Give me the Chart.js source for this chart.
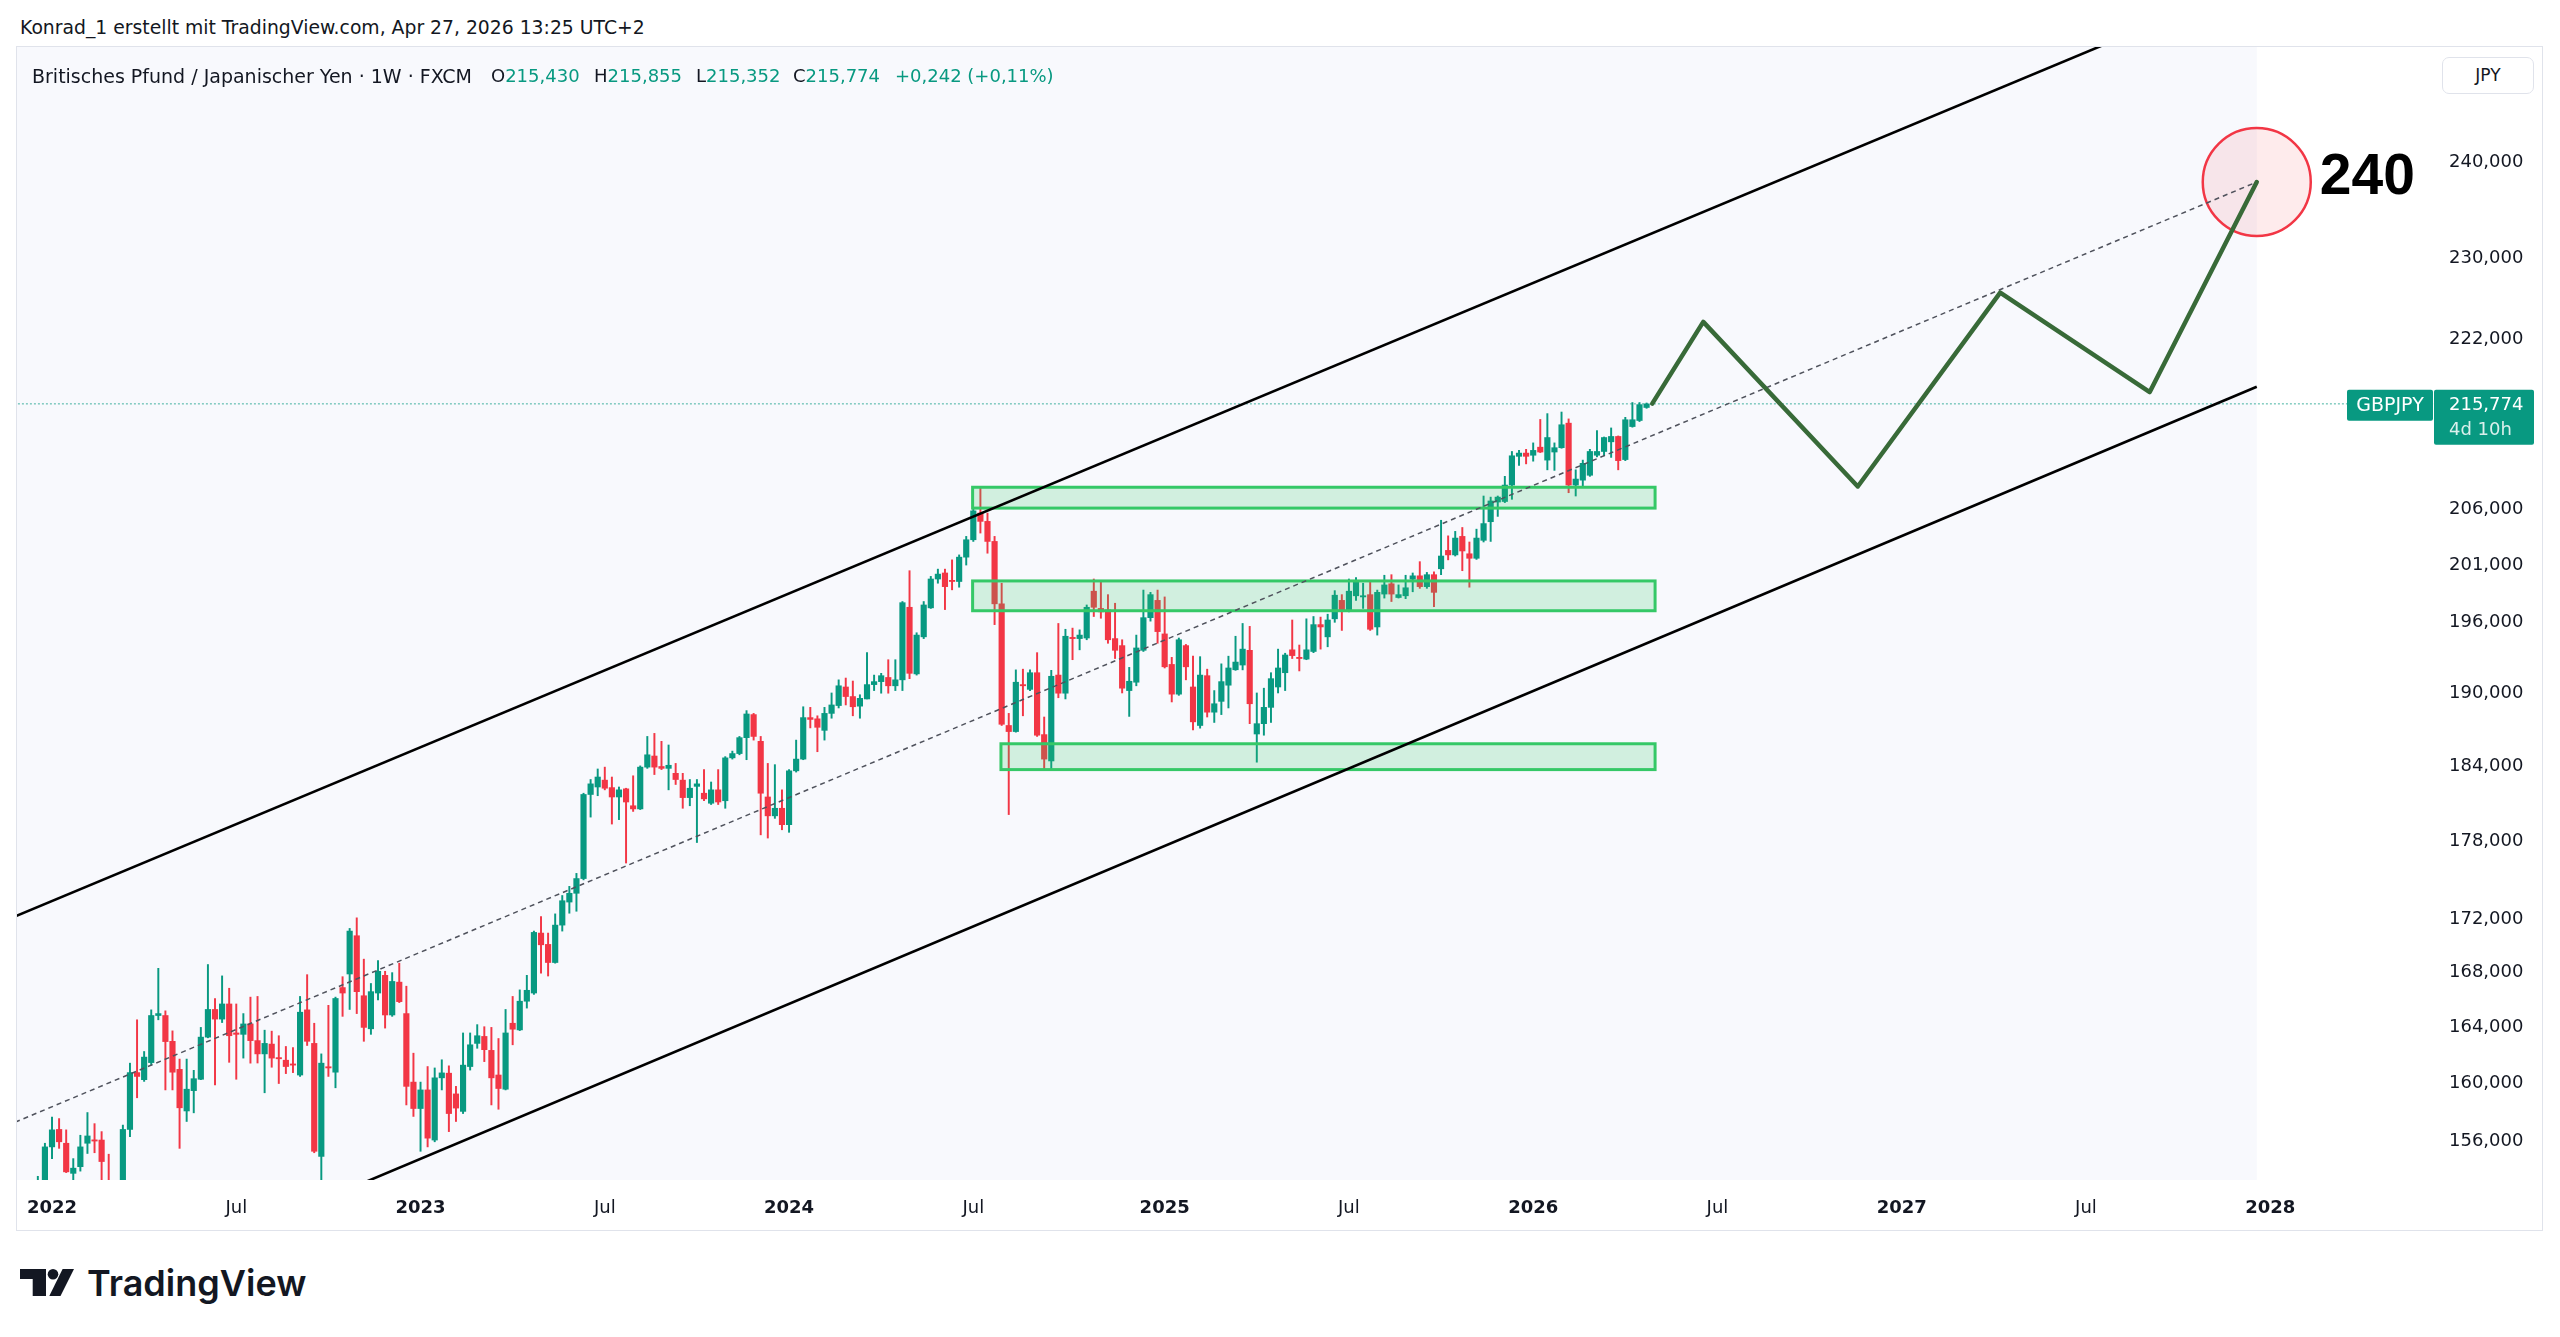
<!DOCTYPE html>
<html lang="de">
<head>
<meta charset="utf-8">
<title>GBPJPY 1W</title>
<script src="https://cdn.jsdelivr.net/npm/chart.js@4.4.1/dist/chart.umd.min.js"></script>
<style>
  html, body { margin:0; padding:0; background:#ffffff; }
  body { width:2560px; height:1337px; position:relative; overflow:hidden; font-family:'DejaVu Sans', sans-serif; color:#131722; }
  .abs { position:absolute; white-space:nowrap; }
  #hdr { left:20px; top:18px; font-size:18.8px; line-height:20px; }
  .lg { top:66px; font-size:18px; line-height:20px; }
  .v { color:#089981; }
  #pane { left:16px; top:46px; width:2527px; height:1185px; border:1px solid #E0E3EB; box-sizing:border-box; }
  #c { position:absolute; left:17px; top:47px; }
  #jpy { left:2442px; top:57px; width:92px; height:37px; border:1px solid #E0E3EB; border-radius:7px; box-sizing:border-box; font-size:17px; line-height:35px; text-align:center; background:#fff; }
  #logo { left:20px; top:1269px; }
  #tv { left:87px; top:1265px; font-family:Inter, sans-serif; font-weight:600; font-size:36px; line-height:36px; color:#131722; }
</style>
</head>
<body>
<div class="abs" id="hdr">Konrad_1 erstellt mit TradingView.com, Apr 27, 2026 13:25 UTC+2</div>
<div class="abs" id="pane"></div>
<canvas id="c" width="2525" height="1183" style="width:2525px;height:1183px"></canvas>
<div class="abs lg" style="left:32px;font-size:19px">Britisches Pfund / Japanischer Yen · 1W · FXCM</div>
<div class="abs lg" style="left:491px">O<span class="v">215,430</span></div>
<div class="abs lg" style="left:594px">H<span class="v">215,855</span></div>
<div class="abs lg" style="left:696px">L<span class="v">215,352</span></div>
<div class="abs lg" style="left:793px">C<span class="v">215,774</span></div>
<div class="abs lg v" style="left:895px">+0,242 (+0,11%)</div>
<div class="abs" id="jpy">JPY</div>
<svg class="abs" id="logo" width="54" height="27" viewBox="0 0 54 27">
  <polygon points="0,0 26,0 26,27 12.7,27 12.7,10 0,10" fill="#131722"/>
  <circle cx="33" cy="5.3" r="5.3" fill="#131722"/>
  <polygon points="42.6,0 54,0 40.5,27 29.3,27" fill="#131722"/>
</svg>
<div class="abs" id="tv">TradingView</div>

<script>
// ---------- DATA ----------
// weekly candles, index 0 = week of 3 Jan 2022
const firstWeek = -2;
const opens = [
  152.3,153.2,
  155.6,156.8,155.85,153.8,154.25,155.85,156.07,156.07,153.0,152.3,
  152.9,156.8,160.77,160.27,161.48,164.86,164.86,163.0,161.0,158.08,
  159.5,160.3,163.3,165.3,164.6,165.7,163.6,163.5,164.25,163.05,
  162.1,162.8,161.8,161.65,161.35,160.6,165.27,162.85,154.95,161.15,
  160.8,166.9,167.9,170.75,166.3,163.9,166.5,167.8,164.9,167.3,
  165.0,160.1,158.25,159.55,156.07,160.4,160.73,159.27,158.05,161.2,
  162.85,163.35,162.35,160.6,159.6,164.3,163.82,165.9,166.5,170.95,
  170.1,168.75,171.55,173.3,173.97,175.1,181.7,182.3,182.85,182.25,
  181.5,182.15,180.8,180.55,183.9,184.8,183.95,183.8,183.4,182.85,
  181.45,182.35,181.8,181.0,182.07,181.2,184.65,185.0,186.3,188.2,
  186.0,181.5,180.0,180.6,179.3,183.6,184.55,187.95,187.85,186.9,
  188.3,188.95,190.5,189.7,188.9,189.5,190.7,190.95,191.3,190.6,
  191.1,197.3,191.6,194.75,197.25,199.77,200.3,199.6,199.55,201.7,
  203.25,205.65,204.9,203.1,197.6,187.3,186.8,190.7,190.3,191.7,
  186.55,184.4,191.5,189.98,194.7,194.6,194.65,198.7,197.2,197.08,
  194.6,194.0,190.2,190.9,193.6,196.4,197.9,195.0,192.4,189.9,
  194.0,190.5,187.3,191.45,188.4,189.3,190.65,191.95,192.35,193.6,
  186.6,187.45,188.8,190.5,191.7,193.64,193.0,192.85,193.5,195.8,
  194.75,196.3,197.9,197.0,198.3,198.2,198.4,195.6,198.45,199.35,
  198.15,198.3,199.75,200.05,199.1,200.15,200.67,202.3,201.9,203.55,
  202.0,201.6,203.2,204.87,206.65,206.7,208.2,210.85,211.15,210.95,
  211.7,210.5,211.25,211.65,213.95,208.2,208.65,209.1,210.95,211.3,
  212.2,212.7,210.55,213.63,214.2,215.43
];
const highs = [
  153.6,155.85,
  157.65,157.55,156.77,154.8,156.4,157.97,157.2,156.65,155.1,153.2,
  157.1,161.44,164.55,162.27,165.27,168.32,165.2,163.75,161.73,161.73,
  160.93,164.0,168.6,166.1,167.76,166.85,165.7,165.0,166.2,166.25,
  163.8,163.73,163.4,162.63,162.55,166.25,167.85,164.3,162.1,165.6,
  166.2,167.7,171.3,172.1,169.0,167.2,168.9,168.1,168.0,168.7,
  167.0,162.15,160.1,161.2,161.1,161.68,161.25,159.8,163.6,163.6,
  164.2,164.05,164.0,163.2,165.3,166.25,166.73,167.8,171.1,172.2,
  170.95,172.4,173.8,174.5,175.5,181.8,182.9,183.75,183.9,183.1,
  182.3,182.2,183.2,184.0,186.4,186.65,186.0,185.7,184.2,183.4,
  182.9,182.9,183.7,182.7,183.7,184.75,185.2,186.4,188.53,188.3,
  186.4,184.2,184.1,182.07,183.7,186.1,188.85,188.8,188.1,188.8,
  190.0,191.1,191.25,191.0,189.85,193.4,191.5,191.65,192.8,192.8,
  197.8,200.5,195.1,197.8,200.0,200.64,200.64,201.46,201.9,203.55,
  206.0,208.0,205.65,203.55,199.4,188.3,191.94,192.0,191.94,193.4,
  188.0,191.9,195.9,195.4,195.5,195.35,197.5,199.77,199.65,198.4,
  197.65,194.5,192.15,194.9,198.8,198.6,198.8,198.2,193.0,194.65,
  194.1,193.1,193.06,192.0,190.2,192.45,193.1,194.8,195.9,195.65,
  190.0,190.4,191.7,193.7,193.35,196.2,194.05,196.3,196.5,196.45,
  196.7,198.75,198.4,199.77,199.9,199.4,199.5,198.8,200.1,200.15,
  199.25,200.1,200.3,201.3,200.35,200.4,205.0,203.6,204.0,204.35,
  203.05,204.2,207.2,207.1,207.2,209.0,211.3,211.4,211.5,212.1,
  214.3,214.85,212.1,215.0,214.35,209.6,210.5,211.5,213.25,212.65,
  213.5,212.75,214.5,215.9,215.9,215.855
];
const lows = [
  151.8,152.8,
  154.8,155.5,153.85,152.8,153.95,155.15,155.2,152.5,151.0,151.0,
  152.6,156.3,159.0,160.15,161.3,164.55,159.55,159.55,155.5,157.35,
  157.95,160.27,163.25,159.9,164.35,161.5,160.3,161.8,161.44,161.45,
  159.35,161.15,160.0,160.7,160.77,160.5,162.7,155.2,148.9,160.5,
  159.7,164.8,165.3,165.0,163.0,163.5,166.0,163.95,164.8,165.8,
  158.5,157.7,155.3,155.6,155.95,159.55,156.65,157.35,157.9,160.95,
  162.5,161.55,158.5,158.2,159.55,162.75,163.77,165.4,166.4,167.96,
  167.75,168.7,171.1,172.45,172.6,175.0,179.9,181.6,182.07,179.35,
  179.7,176.3,180.35,180.5,183.8,183.3,183.7,182.07,182.5,180.6,
  180.8,177.9,181.2,180.9,180.9,180.6,184.55,184.9,184.5,186.1,
  178.5,178.25,179.8,178.9,178.7,183.5,184.5,187.1,185.15,186.1,
  187.9,188.75,189.0,188.1,187.9,189.5,190.2,189.98,189.98,190.2,
  190.2,191.2,191.5,194.6,197.2,199.4,197.1,198.82,199.05,201.0,
  203.1,203.85,202.05,195.8,187.3,180.1,186.75,188.1,190.2,186.4,
  183.68,183.7,189.6,189.5,192.8,193.64,194.5,196.5,196.35,194.2,
  192.9,190.0,188.05,190.6,193.5,196.1,194.2,192.1,189.25,189.8,
  191.1,186.94,187.08,188.0,187.55,188.2,188.75,191.9,191.94,187.45,
  184.3,186.5,187.55,190.0,190.2,192.9,191.85,192.8,193.4,193.7,
  193.9,196.0,195.3,196.9,197.9,197.2,195.3,194.9,198.1,197.8,
  198.1,198.05,198.65,198.95,198.95,197.35,200.15,201.46,201.8,200.5,
  199.05,201.5,203.05,203.1,205.35,206.6,206.9,210.0,210.15,210.4,
  211.2,209.6,209.55,211.6,207.5,207.2,208.0,209.0,210.8,210.9,
  210.75,209.6,210.45,213.57,214.1,215.352
];
const closes = [
  153.2,155.6,
  156.77,155.95,153.9,154.15,155.6,156.35,156.0,154.6,152.3,152.9,
  156.8,160.77,160.5,161.87,164.86,165.0,162.98,160.8,158.3,159.6,
  160.34,163.3,165.3,164.6,165.7,163.4,163.5,164.25,163.05,162.1,
  162.85,161.8,161.75,161.2,161.3,165.1,163.0,155.3,161.44,161.1,
  166.1,166.5,171.1,166.6,164.0,166.6,168.1,164.9,167.35,165.87,
  159.8,158.25,159.55,156.2,160.4,160.75,157.9,158.28,161.3,162.75,
  163.4,162.4,160.4,159.65,163.6,163.87,165.9,166.7,171.0,170.07,
  168.75,171.55,173.4,173.97,175.1,181.7,182.55,183.1,182.2,181.5,
  182.07,181.1,180.55,183.9,184.9,183.9,183.8,184.05,182.9,181.45,
  182.2,182.55,181.35,182.07,181.1,184.65,185.0,186.3,188.25,186.4,
  181.8,180.0,180.6,179.3,183.6,184.55,187.95,187.8,187.15,188.3,
  189.0,190.6,189.7,188.85,189.55,190.7,190.95,191.45,190.6,191.1,
  197.7,191.65,194.9,197.5,199.77,200.2,199.1,199.55,201.7,203.25,
  205.85,204.9,203.1,197.6,187.4,186.8,190.9,190.6,191.7,186.5,
  184.55,191.4,189.98,194.8,194.6,194.9,197.3,197.3,196.9,194.5,
  193.6,190.4,190.98,193.8,196.4,198.4,195.2,192.2,189.9,194.5,
  192.2,187.6,191.5,188.4,189.1,190.95,192.1,192.6,193.7,189.1,
  187.45,188.8,191.2,192.1,193.2,193.15,192.9,193.64,195.8,195.6,
  196.2,198.35,197.0,198.7,199.5,198.25,195.4,198.6,199.25,198.45,
  198.4,199.0,200.05,199.1,200.15,198.6,201.8,201.9,203.4,202.25,
  201.6,203.4,204.7,206.75,207.1,208.2,210.9,211.15,210.85,211.4,
  211.25,212.6,211.65,213.8,208.2,208.75,210.2,211.3,211.3,212.6,
  212.7,210.45,214.27,214.27,215.7,215.774
];
const lastPrice = 215.774;
const symbolLabel = 'GBPJPY';
const countdownLabel = '4d 10h';

// axis ticks
const xTickIdx    = [0, 26, 52, 78, 104, 130, 157, 183, 209, 235, 261, 287, 313];
const xTickLabels = ['2022','Jul','2023','Jul','2024','Jul','2025','Jul','2026','Jul','2027','Jul','2028'];
const yTicks = [156, 160, 164, 168, 172, 178, 184, 190, 196, 201, 206, 222, 230, 240];

// drawings (x in week index, y in price)
const upperX = [-5.08, 311.1],  upperY = [172.24, 259.9];
const lowerX = [40, 311.1],     lowerY = [152.37, 217.4];
const midX   = [-5.2, 311.1],   midY   = [157.3, 237.9];
const projX  = [225.8, 233.0, 254.8, 274.9, 296.0, 311.1];
const projY  = [215.8, 223.7, 208.07, 226.6, 216.9, 237.9];
const zoneX0 = [129.9, 129.9, 133.9];
const zoneX1 = [226.2, 226.2, 226.2];
const zoneLo = [206.1, 197.0, 183.7];
const zoneHi = [208.0, 199.6, 185.8];
const channelEnd = 311.1;
const targetX = 311.1, targetY = 237.9, targetLabel = '240';

// view window
const X_MIN = -4.94, X_MAX = 336.25;
const Y_MIN = 153.35, Y_MAX = 252.46;

// ---------- BUILD ----------
const UP = '#089981', DOWN = '#F23645';
const weeks = opens.map((_, k) => firstWeek + k);
const colors = closes.map((c, k) => (c >= opens[k] ? UP : DOWN));
const pts = (xs, ys) => xs.map((x, k) => ({ x, y: ys[k] }));
const fmt = v => v.toFixed(3).replace('.', ',');

Chart.defaults.font.family = "'DejaVu Sans', sans-serif";
Chart.defaults.color = '#131722';

const bgPlugin = {
  id: 'bgPlugin',
  beforeDatasetsDraw(chart) {
    const { ctx, chartArea: a, scales: { x } } = chart;
    const xr = x.getPixelForValue(channelEnd);
    ctx.save();
    ctx.fillStyle = '#F8F9FD';
    ctx.fillRect(a.left, a.top, xr - a.left, a.bottom - a.top);
    ctx.restore();
  }
};

const zonePlugin = {
  id: 'zonePlugin',
  afterDatasetDraw(chart, args) {
    if (args.index !== 0) return;
    const { ctx, scales: { x, y } } = chart;
    ctx.save();
    zoneX0.forEach((x0, k) => {
      const l = x.getPixelForValue(x0), r = x.getPixelForValue(zoneX1[k]);
      const t = y.getPixelForValue(zoneHi[k]), b = y.getPixelForValue(zoneLo[k]);
      ctx.fillStyle = 'rgba(53,200,103,0.2)';
      ctx.fillRect(l, t, r - l, b - t);
      ctx.strokeStyle = '#35C867';
      ctx.lineWidth = 3;
      ctx.strokeRect(l, t, r - l, b - t);
    });
    ctx.restore();
  }
};

const labelPlugin = {
  id: 'labelPlugin',
  afterDraw(chart) {
    const { ctx, chartArea: a, scales: { x, y } } = chart;
    ctx.save();
    const cx = x.getPixelForValue(targetX), cy = y.getPixelForValue(targetY);
    ctx.fillStyle = '#000';
    ctx.font = "bold 57px 'Liberation Sans', Arial, sans-serif";
    ctx.textAlign = 'left';
    ctx.textBaseline = 'alphabetic';
    ctx.fillText(targetLabel, cx + 63, cy + 12);
    const py = y.getPixelForValue(lastPrice);
    ctx.fillStyle = UP;
    ctx.beginPath();
    ctx.roundRect(a.right - 88, py - 14, 86, 31, 2);
    ctx.fill();
    ctx.beginPath();
    ctx.roundRect(a.right - 1, py - 14, 100, 55, 2);
    ctx.fill();
    ctx.fillStyle = '#fff';
    ctx.textBaseline = 'middle';
    ctx.textAlign = 'center';
    ctx.font = "19px 'DejaVu Sans', sans-serif";
    ctx.fillText(symbolLabel, a.right - 45, py + 2);
    ctx.textAlign = 'left';
    ctx.font = "18px 'DejaVu Sans', sans-serif";
    ctx.fillText(fmt(lastPrice), a.right + 14, py + 1);
    ctx.fillStyle = 'rgba(255,255,255,0.85)';
    ctx.fillText(countdownLabel, a.right + 14, py + 26);
    ctx.restore();
  }
};

new Chart(document.getElementById('c'), {
  type: 'bar',
  data: {
    datasets: [
      { type: 'bar', order: 5, grouped: false,
        data: weeks.map((w, k) => ({ x: w, y: [opens[k], closes[k]] })),
        backgroundColor: colors, borderWidth: 0, barThickness: 5.5, minBarLength: 1.2 },
      { type: 'bar', order: 6, grouped: false,
        data: weeks.map((w, k) => ({ x: w, y: [lows[k], highs[k]] })),
        backgroundColor: colors, borderWidth: 0, barThickness: 1.3, minBarLength: 1 },
      { type: 'line', order: 4,
        data: pts([X_MIN - 1, X_MAX + 1], [lastPrice, lastPrice]),
        borderColor: 'rgba(8,153,129,0.75)', borderWidth: 1, borderDash: [2, 2], pointRadius: 0, tension: 0 },
      { type: 'line', order: 3, showLine: false,
        data: pts([targetX], [targetY]),
        pointRadius: 54, pointHoverRadius: 54,
        pointBackgroundColor: 'rgba(242,54,69,0.1)', pointBorderColor: '#F23645', pointBorderWidth: 2.5 },
      { type: 'line', order: 2,
        data: pts(midX, midY),
        borderColor: '#4f525c', borderWidth: 1.5, borderDash: [5, 4], pointRadius: 0, tension: 0 },
      { type: 'line', order: 1,
        data: pts(upperX, upperY),
        borderColor: '#000', borderWidth: 2.6, pointRadius: 0, tension: 0 },
      { type: 'line', order: 1,
        data: pts(lowerX, lowerY),
        borderColor: '#000', borderWidth: 2.6, pointRadius: 0, tension: 0 },
      { type: 'line', order: 0,
        data: pts(projX, projY),
        borderColor: '#386A38', borderWidth: 4.5, pointRadius: 0, tension: 0,
        borderCapStyle: 'round', borderJoinStyle: 'round' }
    ]
  },
  options: {
    responsive: false,
    devicePixelRatio: 1,
    animation: false,
    events: [],
    layout: { padding: 0, autoPadding: false },
    plugins: { legend: { display: false }, tooltip: { enabled: false } },
    scales: {
      x: {
        type: 'linear', min: X_MIN, max: X_MAX, offset: false,
        grid: { display: false, drawTicks: false, offset: false },
        border: { display: false },
        ticks: {
          autoSkip: false, maxRotation: 0, padding: 18, color: '#131722',
          font: ctx => ({ family: "'DejaVu Sans', sans-serif", size: 18,
            weight: /^\d+$/.test(xTickLabels[xTickIdx.indexOf(ctx.tick ? ctx.tick.value : -1)] || '') ? 'bold' : 'normal' }),
          callback: v => { const i = xTickIdx.indexOf(v); return i >= 0 ? xTickLabels[i] : ''; }
        },
        afterBuildTicks: s => { s.ticks = xTickIdx.map(v => ({ value: v })); },
        afterFit: s => { s.height = 50; s.paddingLeft = 0; s.paddingRight = 0; s.paddingTop = 0; s.paddingBottom = 0; }
      },
      y: {
        type: 'logarithmic', position: 'right', min: Y_MIN, max: Y_MAX,
        grid: { display: false, drawTicks: false },
        border: { display: false },
        ticks: {
          autoSkip: false, padding: 14, color: '#131722',
          font: { size: 18 },
          callback: v => fmt(v)
        },
        afterBuildTicks: s => { s.ticks = yTicks.map(v => ({ value: v })); },
        afterFit: s => { s.width = 107; s.paddingTop = 0; s.paddingBottom = 0; s.paddingLeft = 0; s.paddingRight = 0; }
      }
    }
  },
  plugins: [bgPlugin, zonePlugin, labelPlugin]
});
</script>
</body>
</html>
